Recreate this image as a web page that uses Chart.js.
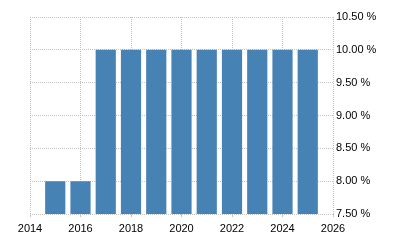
<!DOCTYPE html>
<html>
<head>
<meta charset="utf-8">
<script src="https://cdn.jsdelivr.net/npm/chart.js@4"></script>
<style>
  body { margin: 0; background: #fff; }
</style>
</head>
<body>
<canvas id="rateChart" width="400" height="250"></canvas>
<script>
const years = [2015, 2016, 2017, 2018, 2019, 2020, 2021, 2022, 2023, 2024, 2025];
const rates = [8.00, 8.00, 10.00, 10.00, 10.00, 10.00, 10.00, 10.00, 10.00, 10.00, 10.00];

const gridColor = '#c4c4c4';
const tickFont = { family: '"Liberation Sans", Arial, sans-serif', size: 11 };

const config = {
  type: 'bar',
  data: {
    datasets: [{
      data: years.map((y, i) => ({ x: y, y: rates[i] })),
      backgroundColor: '#4682b4',
      borderWidth: 0,
      barPercentage: 0.8,
      categoryPercentage: 1
    }]
  },
  options: {
    responsive: false,
    animation: false,
    events: [],
    layout: { padding: { left: 30, top: 17, right: 0, bottom: 0 } },
    plugins: { legend: { display: false }, tooltip: { enabled: false } },
    scales: {
      x: {
        type: 'linear',
        min: 2014,
        max: 2026,
        offset: false,
        grid: { color: gridColor, tickLength: 3, offset: false },
        border: { display: false, dash: [1, 1] },
        ticks: {
          stepSize: 2,
          color: '#000',
          font: tickFont,
          padding: 5,
          maxRotation: 0,
          callback: v => String(v)
        },
        afterFit: scale => { scale.height = 36; }
      },
      y: {
        position: 'right',
        min: 7.5,
        max: 10.5,
        grid: { color: gridColor, drawTicks: false },
        border: { display: false, dash: [1, 1] },
        ticks: {
          stepSize: 0.5,
          color: '#000',
          font: tickFont,
          padding: 3,
          callback: v => v.toFixed(2) + ' %'
        },
        afterFit: scale => { scale.width = 67; }
      }
    }
  }
};

new Chart(document.getElementById('rateChart'), config);
</script>
</body>
</html>
